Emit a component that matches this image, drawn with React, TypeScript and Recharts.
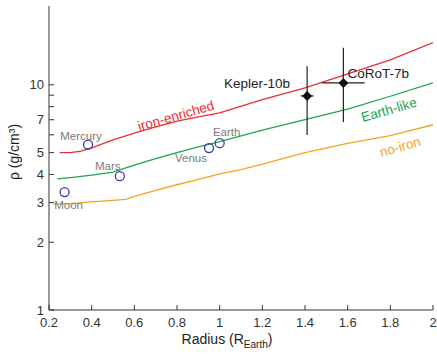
import { ComposedChart, Line, Scatter, XAxis, YAxis, ErrorBar, Label } from "recharts";

// model curves: radius (R_Earth) vs bulk density (g/cm3)
const IRON_R = [0.25, 0.3, 0.35, 0.4, 0.5, 0.6, 0.7, 0.8, 0.9, 1.0, 1.2, 1.4, 1.6, 1.8, 2.0];
const IRON_RHO = [5.0, 5.0, 5.08, 5.25, 5.7, 6.1, 6.5, 6.9, 7.2, 7.5, 8.6, 9.7, 11.2, 12.9, 15.4];

const EARTH_R = [0.24, 0.3, 0.4, 0.5, 0.55, 0.6, 0.7, 0.8, 0.9, 1.0, 1.2, 1.4, 1.6, 1.8, 2.0];
const EARTH_RHO = [3.82, 3.87, 3.97, 4.1, 4.25, 4.4, 4.7, 5.0, 5.3, 5.6, 6.3, 7.0, 7.8, 8.9, 10.2];

const NOIRON_R = [0.22, 0.3, 0.4, 0.5, 0.56, 0.6, 0.7, 0.8, 0.9, 1.0, 1.1, 1.2, 1.4, 1.6, 1.8, 2.0];
const NOIRON_RHO = [2.95, 2.97, 3.02, 3.07, 3.1, 3.2, 3.4, 3.6, 3.8, 4.02, 4.2, 4.45, 5.0, 5.5, 5.95, 6.65];

// solar system bodies
const PLANETS = ["Mercury", "Mars", "Venus", "Earth", "Moon"];
const PLANET_R = [0.383, 0.532, 0.95, 1.0, 0.273];
const PLANET_RHO = [5.43, 3.93, 5.24, 5.51, 3.34];

// exoplanets with asymmetric errors
const EXO = ["Kepler-10b", "CoRoT-7b"];
const EXO_R = [1.41, 1.58];
const EXO_RHO = [8.93, 10.2];
const EXO_R_ERR = [[0.03, 0.03], [0.1, 0.1]];
const EXO_RHO_ERR = [[2.94, 3.17], [3.36, 4.4]];

// curve annotations
const CURVE_LABELS = ["iron-enriched", "Earth-like", "no-iron"];
const CURVE_LABEL_R = [0.795, 1.794, 1.846];
const CURVE_LABEL_RHO = [7.28, 7.75, 5.3];

const X_TICKS = [0.2, 0.4, 0.6, 0.8, 1, 1.2, 1.4, 1.6, 1.8, 2];
const Y_TICKS = [1, 2, 3, 4, 5, 6, 7, 8, 9, 10];
const Y_LABELED = [1, 2, 3, 4, 5, 7, 10];

const RED = "#ee2c32";
const GREEN = "#1ea44d";
const ORANGE = "#f5a323";
const BLUE = "#3a3aa6";
const GRAY = "#7b7b7b";
const AXIS = "#333";
const FONT = "Liberation Sans, Arial, sans-serif";

const toPts = (xs: number[], ys: number[]) => xs.map((x, i) => ({ x, y: ys[i] }));

const ironData = toPts(IRON_R, IRON_RHO);
const earthData = toPts(EARTH_R, EARTH_RHO);
const noIronData = toPts(NOIRON_R, NOIRON_RHO);
const planetData = PLANETS.map((name, i) => ({ name, x: PLANET_R[i], y: PLANET_RHO[i] }));
const exoData = EXO.map((name, i) => ({
  name,
  x: EXO_R[i],
  y: EXO_RHO[i],
  ex: EXO_R_ERR[i],
  ey: EXO_RHO_ERR[i],
}));
const curveLabelData = CURVE_LABELS.map((name, i) => ({
  name,
  x: CURVE_LABEL_R[i],
  y: CURVE_LABEL_RHO[i],
}));

// label placement relative to the marker
const PLANET_OFFSET: Record<string, [number, number]> = {
  Mercury: [-7, -9],
  Mars: [-12, -10],
  Venus: [-18, 10],
  Earth: [7, -11],
  Moon: [4, 13],
};
const CURVE_COLOR: Record<string, string> = {
  "iron-enriched": RED,
  "Earth-like": GREEN,
  "no-iron": ORANGE,
};

function PlanetShape(props: any) {
  const { cx, cy, payload } = props;
  const [dx, dy] = PLANET_OFFSET[payload.name] || [0, 0];
  return (
    <g>
      <circle cx={cx} cy={cy} r={4.5} fill="none" stroke={BLUE} strokeWidth={1.3} />
      <text
        x={cx + dx}
        y={cy + dy}
        textAnchor="middle"
        dominantBaseline="central"
        fontSize={11.5}
        fontFamily={FONT}
        fill={GRAY}
      >
        {payload.name}
      </text>
    </g>
  );
}

function ExoShape(props: any) {
  const { cx, cy, payload } = props;
  const s = 5;
  const left = payload.name === "Kepler-10b";
  return (
    <g>
      <polygon
        points={`${cx},${cy - s} ${cx + s},${cy} ${cx},${cy + s} ${cx - s},${cy}`}
        fill="#111"
      />
      <text
        x={left ? cx - 17 : cx + 4}
        y={left ? cy - 12 : cy - 9}
        textAnchor={left ? "end" : "start"}
        dominantBaseline="central"
        fontSize={13.5}
        fontFamily={FONT}
        fill="#222"
      >
        {payload.name}
      </text>
    </g>
  );
}

function CurveLabelShape(props: any) {
  const { cx, cy, payload } = props;
  return (
    <text
      x={cx}
      y={cy}
      textAnchor="middle"
      dominantBaseline="central"
      fontSize={13.5}
      fontFamily={FONT}
      fill={CURVE_COLOR[payload.name]}
      transform={`rotate(-16 ${cx} ${cy})`}
    >
      {payload.name}
    </text>
  );
}

function XTitle(props: any) {
  const { x, y, width } = props.viewBox;
  return (
    <text x={x + width / 2 - 14} y={y + 34} textAnchor="middle" fontSize={14} fontFamily={FONT} fill="#222">
      Radius (R
      <tspan fontSize={10} dy={4}>
        Earth
      </tspan>
      <tspan dy={-4}>)</tspan>
    </text>
  );
}

function YTitle(props: any) {
  const { y, height } = props.viewBox;
  const cx = 14;
  const cy = y + height / 2 - 6;
  return (
    <text
      x={cx}
      y={cy}
      textAnchor="middle"
      dominantBaseline="central"
      fontSize={14}
      fontFamily={FONT}
      fill="#222"
      transform={`rotate(-90 ${cx} ${cy})`}
    >
      ρ (g/cm³)
    </text>
  );
}

const fmtX = (v: number) => (Number.isInteger(v) ? String(v) : v.toFixed(1));
const fmtY = (v: number) => (Y_LABELED.includes(v) ? String(v) : "");

export default function App() {
  const tickStyle = { fill: AXIS, fontSize: 13, fontFamily: FONT };
  return (
    <div style={{ position: "absolute", left: 0, top: 0, background: "#fff" }}>
      <ComposedChart
        width={437}
        height={354}
        margin={{ top: 6, right: 4, bottom: 14, left: 9 }}
      >
        <XAxis
          dataKey="x"
          type="number"
          domain={[0.2, 2]}
          ticks={X_TICKS}
          tickFormatter={fmtX}
          allowDataOverflow
          height={30}
          tickSize={-5}
          tickMargin={13}
          tick={tickStyle}
          stroke={AXIS}
          interval={0}
        >
          <Label content={<XTitle />} />
        </XAxis>
        <XAxis
          xAxisId="top"
          orientation="top"
          type="number"
          domain={[0.2, 2]}
          ticks={X_TICKS}
          tickFormatter={() => ""}
          allowDataOverflow
          height={0}
          tickSize={-5}
          stroke={AXIS}
          interval={0}
        />
        <YAxis
          type="number"
          scale="log"
          domain={[1, 22.4]}
          ticks={Y_TICKS}
          tickFormatter={fmtY}
          allowDataOverflow
          width={40}
          tickSize={-5}
          tickMargin={10}
          tick={tickStyle}
          stroke={AXIS}
          interval={0}
        >
          <Label content={<YTitle />} />
        </YAxis>
        <YAxis
          yAxisId="right"
          orientation="right"
          type="number"
          scale="log"
          domain={[1, 22.4]}
          ticks={Y_TICKS}
          tickFormatter={() => ""}
          allowDataOverflow
          width={0}
          tickSize={-5}
          stroke={AXIS}
          interval={0}
        />

        <Line data={ironData} dataKey="y" stroke={RED} strokeWidth={1.3} dot={false} isAnimationActive={false} />
        <Line data={earthData} dataKey="y" stroke={GREEN} strokeWidth={1.3} dot={false} isAnimationActive={false} />
        <Line data={noIronData} dataKey="y" stroke={ORANGE} strokeWidth={1.3} dot={false} isAnimationActive={false} />

        <Scatter data={curveLabelData} dataKey="y" shape={<CurveLabelShape />} isAnimationActive={false} />
        <Scatter data={planetData} dataKey="y" shape={<PlanetShape />} isAnimationActive={false} />
        <Scatter data={exoData} dataKey="y" shape={<ExoShape />} isAnimationActive={false}>
          <ErrorBar dataKey="ey" direction="y" width={0} stroke="#222" strokeWidth={1.2} />
          <ErrorBar dataKey="ex" direction="x" width={0} stroke="#222" strokeWidth={1.2} />
        </Scatter>
      </ComposedChart>
    </div>
  );
}
